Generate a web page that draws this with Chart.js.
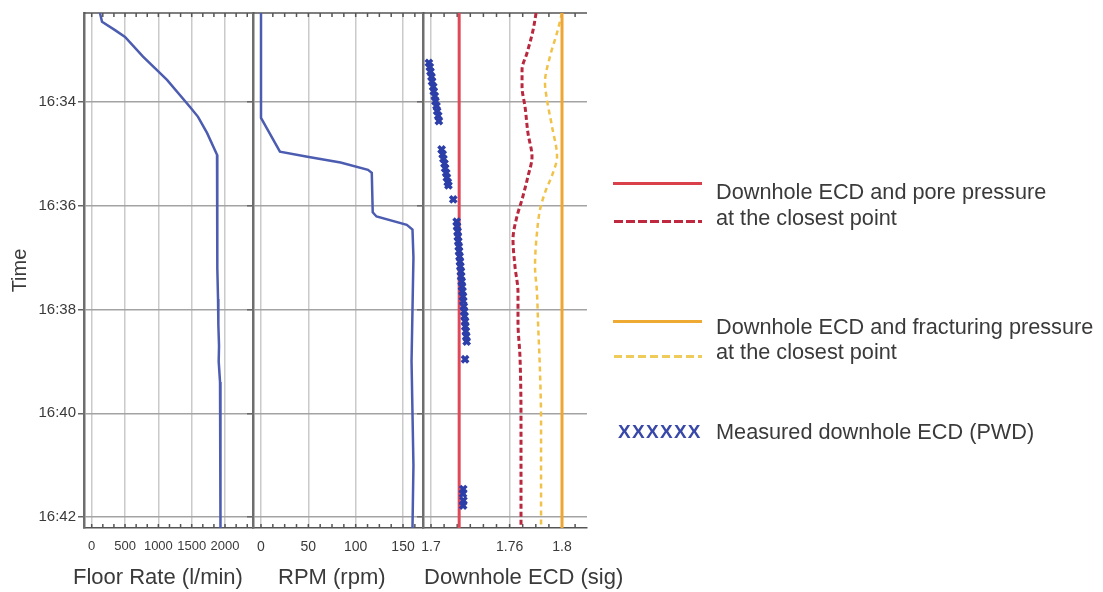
<!DOCTYPE html>
<html>
<head>
<meta charset="utf-8">
<title>Downhole ECD</title>
<script src="https://cdn.jsdelivr.net/npm/chart.js@4.4.1/dist/chart.umd.min.js"></script>
<style>
  html, body { margin: 0; padding: 0; background: #fff; }
  #wrap { position: relative; width: 1103px; height: 592px; overflow: hidden;
          font-family: "Liberation Sans", Arial, sans-serif; color: #3a3a3a; }
  #wrap canvas { position: absolute; left: 0; top: 0; }
  .axis-title { position: absolute; font-size: 22px; line-height: 1; white-space: nowrap; }
  .key-line { position: absolute; }
  .key-text { position: absolute; font-size: 21.7px; line-height: 1; white-space: nowrap; }
</style>
</head>
<body>
<div id="wrap">
  <canvas id="floor-chart" width="1103" height="592"></canvas>
  <canvas id="rpm-chart" width="1103" height="592"></canvas>
  <canvas id="ecd-chart" width="1103" height="592"></canvas>

  <div class="axis-title" style="left:73px; top:566px;">Floor Rate (l/min)</div>
  <div class="axis-title" style="left:278px; top:566px;">RPM (rpm)</div>
  <div class="axis-title" style="left:424px; top:566px;">Downhole ECD (sig)</div>

  <div class="key-line" style="left:613px; top:182px; width:89px; height:3px; background:#d9404a;"></div>
  <div class="key-text" style="left:716px; top:181px;">Downhole ECD and pore pressure</div>
  <div class="key-line" style="left:614px; top:220px; width:88px; height:3px; background:repeating-linear-gradient(to right, #c0283f 0 9px, transparent 9px 12px);"></div>
  <div class="key-text" style="left:716px; top:207px;">at the closest point</div>

  <div class="key-line" style="left:613px; top:320px; width:89px; height:3px; background:#eeaa33;"></div>
  <div class="key-text" style="left:716px; top:316px;">Downhole ECD and fracturing pressure</div>
  <div class="key-line" style="left:614px; top:355px; width:88px; height:3px; background:repeating-linear-gradient(to right, #efcb5a 0 8px, transparent 8px 12px);"></div>
  <div class="key-text" style="left:716px; top:341px;">at the closest point</div>

  <div class="key-text" style="left:618px; top:422px; font-size:19px; font-weight:bold; letter-spacing:1.3px; color:#3848a8;">XXXXXX</div>
  <div class="key-text" style="left:716px; top:421px;">Measured downhole ECD (PWD)</div>
</div>

<script>
// Time is kept as minutes after 16:00, growing downwards
const timeTicks = [34, 36, 38, 40, 42];
const timeMin = 32.29;
const timeMax = 42.21;

// Floor rate (l/min)
const floorTime = [32.29, 32.46, 32.62, 32.75, 33.13, 33.58, 34.10, 34.29, 34.60, 35.02,
                   35.5, 36.0, 36.6, 37.2, 37.8, 38.3, 38.7, 39.0, 39.4, 40.0, 41.0, 42.21];
const floorRate = [124, 155, 350, 500, 770, 1130, 1475, 1595, 1730, 1880,
                   1885, 1882, 1886, 1884, 1895, 1900, 1910, 1905, 1925, 1928, 1932, 1935];
const floorTicks = [0, 500, 1000, 1500, 2000];

// Rotary speed (rpm)
const rpmTime = [32.29, 34.31, 34.96, 35.06, 35.17, 35.31, 35.37, 36.13, 36.21, 36.37, 36.46,
                 37.0, 38.0, 39.0, 40.0, 41.0, 42.21];
const rpmValue = [0, 0, 20, 49, 84, 113, 117, 118, 122, 154, 160,
                  161, 160, 159, 160, 161, 160];
const rpmTicks = [0, 50, 100, 150];

// Downhole ECD (sg)
const ecdTicks = [1.7, 1.76, 1.8];
const poreEcd = 1.7215;
const fracEcd = 1.8;

const poreClosestTime = [32.29, 32.62, 33.06, 33.38, 33.71, 34.10, 34.60, 35.06, 35.44, 35.88,
                         36.21, 36.65, 37.17, 37.67, 38.25, 38.90, 40.17, 42.10, 42.21];
const poreClosestEcd = [1.7802, 1.7779, 1.7733, 1.7695, 1.7695, 1.7718, 1.7740, 1.7771, 1.7740, 1.7695,
                        1.7656, 1.7626, 1.7641, 1.7664, 1.7664, 1.7679, 1.7687, 1.7687, 1.7687];

const fracClosestTime = [32.29, 32.67, 33.13, 33.63, 33.96, 34.48, 35.06, 35.37, 35.75, 36.08,
                         36.52, 37.17, 37.67, 38.25, 39.20, 40.17, 42.10, 42.21];
const fracClosestEcd = [1.8000, 1.7962, 1.7908, 1.7870, 1.7885, 1.7924, 1.7962, 1.7931, 1.7870, 1.7832,
                        1.7809, 1.7794, 1.7809, 1.7817, 1.7832, 1.7840, 1.7840, 1.7840];

// PWD readings
const pwdTime = [33.25, 33.33, 33.42, 33.52, 33.61, 33.71, 33.80, 33.89, 33.99, 34.08, 34.18, 34.27, 34.37,
                 34.92, 35.01, 35.10, 35.19, 35.28, 35.37, 35.46, 35.55, 35.61,
                 35.88,
                 36.31, 36.40, 36.50, 36.60, 36.69, 36.79, 36.88, 36.98, 37.08, 37.17, 37.27, 37.36, 37.46,
                 37.56, 37.65, 37.75, 37.84, 37.94, 38.04, 38.13, 38.23, 38.33, 38.42, 38.52, 38.62,
                 38.96,
                 41.46, 41.55, 41.68, 41.78];
const pwdEcd = [1.6984, 1.6991, 1.6996, 1.7004, 1.7008, 1.7017, 1.7021, 1.7029, 1.7034, 1.7042, 1.7047, 1.7055, 1.7060,
                1.7081, 1.7089, 1.7095, 1.7103, 1.7108, 1.7116, 1.7121, 1.7128, 1.7133,
                1.7170,
                1.7196, 1.7199, 1.7203, 1.7205, 1.7208, 1.7212, 1.7214, 1.7218, 1.7221, 1.7224, 1.7228, 1.7230, 1.7234,
                1.7237, 1.7240, 1.7244, 1.7246, 1.7250, 1.7253, 1.7256, 1.7260, 1.7262, 1.7266, 1.7269, 1.7272,
                1.7260,
                1.7246, 1.7244, 1.7247, 1.7245];

Chart.defaults.font.family = '"Liberation Sans", Arial, sans-serif';
Chart.defaults.color = '#3a3a3a';

const toPoints = (times, values) => times.map((t, i) => ({ x: values[i], y: t }));

// top edge line plus the small ticks along top and bottom of every track
const edgeTicks = {
  id: 'edgeTicks',
  beforeDatasetsDraw(chart, args, opts) {
    const { ctx, chartArea } = chart;
    const xs = chart.scales.x;
    ctx.save();
    ctx.strokeStyle = '#555';
    ctx.lineWidth = 1.5;
    ctx.beginPath();
    ctx.moveTo(chartArea.left, chartArea.top);
    ctx.lineTo(chartArea.right, chartArea.top);
    const first = Math.ceil(xs.min / opts.step);
    for (let k = first; k * opts.step <= xs.max; k++) {
      const px = xs.getPixelForValue(k * opts.step);
      ctx.moveTo(px, chartArea.top);
      ctx.lineTo(px, chartArea.top + 4);
      ctx.moveTo(px, chartArea.bottom);
      ctx.lineTo(px, chartArea.bottom - 4);
    }
    ctx.stroke();
    ctx.restore();
  }
};

function timeAxis(showLabels) {
  return {
    type: 'linear',
    position: 'left',
    reverse: true,
    min: timeMin,
    max: timeMax,
    afterBuildTicks: scale => { scale.ticks = timeTicks.map(v => ({ value: v })); },
    afterFit: scale => { scale.width = showLabels ? 84 : 0; },
    grid: { color: '#a3a3a3', lineWidth: 1.5, tickLength: 6, tickColor: '#666' },
    border: { display: true, color: '#6e6e6e', width: 2.5 },
    ticks: {
      display: showLabels,
      padding: 2,
      font: { size: 15 },
      callback: v => '16:' + String(v).padStart(2, '0')
    },
    title: {
      display: showLabels,
      text: 'Time',
      font: { size: 20 },
      padding: { top: 8, bottom: 0 }
    }
  };
}

function valueAxis(min, max, tickValues, fontSize) {
  return {
    type: 'linear',
    position: 'bottom',
    min: min,
    max: max,
    afterBuildTicks: scale => { scale.ticks = tickValues.map(v => ({ value: v })); },
    afterFit: scale => { scale.height = 64; },
    grid: { color: '#cacaca', lineWidth: 1.5, drawTicks: false },
    border: { display: true, color: '#555', width: 1.5 },
    ticks: {
      autoSkip: false,
      maxRotation: 0,
      padding: 11,
      font: { size: fontSize },
      callback: v => String(v)
    }
  };
}

function trackOptions(left, right, xAxis, showTime, step) {
  return {
    responsive: false,
    animation: false,
    devicePixelRatio: 1,
    indexAxis: 'y',
    layout: { padding: { left: left, right: 1103 - right, top: 13, bottom: 0 } },
    plugins: {
      legend: { display: false },
      tooltip: { enabled: false },
      edgeTicks: { step: step }
    },
    elements: { point: { radius: 0 } },
    scales: { x: xAxis, y: timeAxis(showTime) }
  };
}

// Track 1: floor rate
new Chart(document.getElementById('floor-chart'), {
  type: 'line',
  data: {
    datasets: [{
      data: toPoints(floorTime, floorRate),
      borderColor: '#4c5cb0',
      borderWidth: 2.5,
      tension: 0
    }]
  },
  options: trackOptions(0, 253, valueAxis(-115.5, 2419.6, floorTicks, 13), true, 500 / 3),
  plugins: [edgeTicks]
});

// Track 2: RPM
new Chart(document.getElementById('rpm-chart'), {
  type: 'line',
  data: {
    datasets: [{
      data: toPoints(rpmTime, rpmValue),
      borderColor: '#4c5cb0',
      borderWidth: 2.5,
      tension: 0
    }]
  },
  options: trackOptions(253, 423, valueAxis(-8.45, 171.1, rpmTicks, 14), false, 12.5),
  plugins: [edgeTicks]
});

// Track 3: downhole ECD against pore / fracture limits
new Chart(document.getElementById('ecd-chart'), {
  type: 'line',
  data: {
    datasets: [
      {
        data: toPoints(pwdTime, pwdEcd),
        showLine: false,
        pointStyle: 'crossRot',
        pointRadius: 4.5,
        pointBorderWidth: 3.5,
        pointBorderColor: '#2c3ea8'
      },
      {
        data: toPoints([timeMin, timeMax], [poreEcd, poreEcd]),
        borderColor: '#e0485a',
        borderWidth: 3
      },
      {
        data: toPoints([timeMin, timeMax], [fracEcd, fracEcd]),
        borderColor: '#eea534',
        borderWidth: 3
      },
      {
        data: toPoints(poreClosestTime, poreClosestEcd),
        borderColor: '#b8283e',
        borderWidth: 3,
        borderDash: [5, 3],
        cubicInterpolationMode: 'monotone'
      },
      {
        data: toPoints(fracClosestTime, fracClosestEcd),
        borderColor: '#f1c24a',
        borderWidth: 2.5,
        borderDash: [5, 4],
        cubicInterpolationMode: 'monotone'
      }
    ]
  },
  options: trackOptions(423, 587, valueAxis(1.69389, 1.81908, ecdTicks, 14), false, 0.01),
  plugins: [edgeTicks]
});
</script>
</body>
</html>
